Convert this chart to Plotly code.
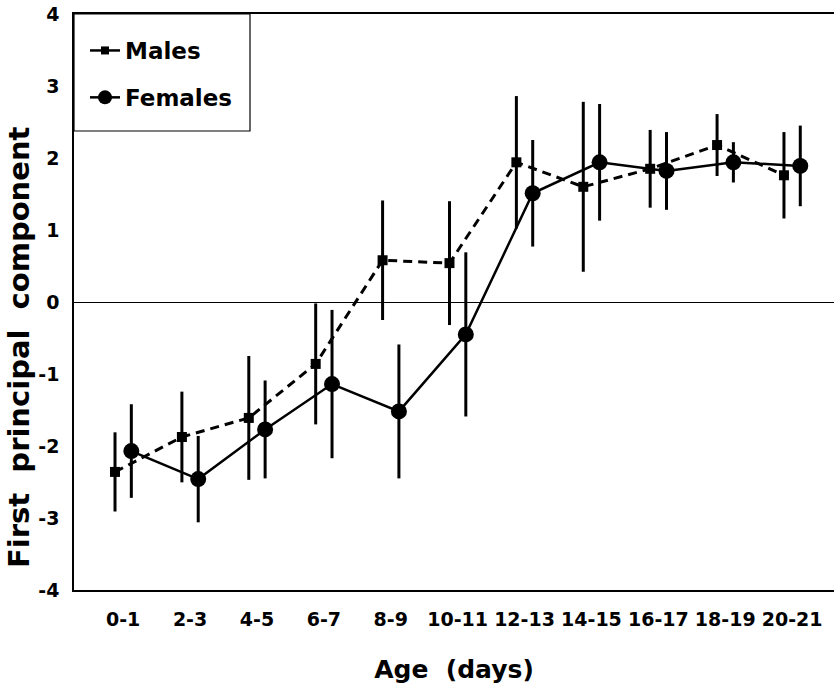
import plotly.graph_objects as go

ages = ["0-1", "2-3", "4-5", "6-7", "8-9", "10-11", "12-13", "14-15", "16-17", "18-19", "20-21"]
y_ticks = [4, 3, 2, 1, 0, -1, -2, -3, -4]

males_mean = [-2.36, -1.875, -1.61, -0.86, 0.58, 0.54, 1.94, 1.60, 1.85, 2.18, 1.76]
males_err = [0.55, 0.63, 0.86, 0.84, 0.83, 0.86, 0.92, 1.18, 0.54, 0.43, 0.60]

females_mean = [-2.07, -2.46, -1.77, -1.14, -1.52, -0.45, 1.51, 1.94, 1.82, 1.94, 1.89]
females_err = [0.65, 0.60, 0.68, 1.03, 0.93, 1.14, 0.74, 0.81, 0.54, 0.28, 0.56]

OFFSET = 0.122
idx = list(range(len(ages)))
x_m = [i - OFFSET for i in idx]
x_f = [i + OFFSET for i in idx]

FONT = "DejaVu Sans"

fig = go.Figure()

fig.add_trace(go.Scatter(
    x=x_m, y=males_mean, mode="lines+markers", showlegend=False, name="Males",
    line=dict(color="black", width=3, dash="9px,6px"),
    marker=dict(symbol="square", size=10, color="black"),
    error_y=dict(type="data", array=males_err, visible=True, color="black", thickness=3, width=0),
))
fig.add_trace(go.Scatter(
    x=x_f, y=females_mean, mode="lines+markers", showlegend=False, name="Females",
    line=dict(color="black", width=2.5),
    marker=dict(symbol="circle", size=16, color="black"),
    error_y=dict(type="data", array=females_err, visible=True, color="black", thickness=3, width=0),
))
# legend entries
fig.add_trace(go.Scatter(
    x=[None], y=[None], mode="lines+markers", name="Males", legendgroup="m",
    line=dict(color="black", width=2.5),
    marker=dict(symbol="square", size=8, color="black"),
))
fig.add_trace(go.Scatter(
    x=[None], y=[None], mode="lines+markers", name="Females", legendgroup="f",
    line=dict(color="black", width=2.5),
    marker=dict(symbol="circle", size=14, color="black"),
))

W, H = 834, 689
L, R, T, B = 74, 0, 14, 99
pw, ph = W - L - R, H - T - B

def px_x(p):
    return (p - L) / pw

def px_y(p):
    return (H - B - p) / ph

fig.add_shape(type="rect", xref="paper", yref="paper",
              x0=0, x1=px_x(250), y0=px_y(131), y1=1,
              line=dict(color="black", width=1.2), fillcolor="rgba(0,0,0,0)")

fig.add_annotation(text="First\u00a0\u00a0principal\u00a0\u00a0component", xref="paper", yref="paper",
                   x=px_x(19), y=px_y(347), textangle=-90, showarrow=False,
                   xanchor="center", yanchor="middle",
                   font=dict(family=FONT, size=29, color="black", weight="bold"))

fig.update_layout(
    width=W, height=H,
    margin=dict(l=L, r=R, t=T, b=B),
    paper_bgcolor="white", plot_bgcolor="white",
    showlegend=True,
    legend=dict(x=px_x(85), y=px_y(29), xanchor="left", yanchor="top",
                bgcolor="rgba(0,0,0,0)", borderwidth=0, tracegroupgap=14,
                font=dict(family=FONT, size=23, color="black", weight="bold")),
    xaxis=dict(
        range=[-0.735, 10.626], tickmode="array", tickvals=idx, ticktext=ages,
        showgrid=False, zeroline=False, showline=True, mirror=True,
        linecolor="black", linewidth=1.5, ticks="", ticklabelstandoff=11,
        tickfont=dict(family=FONT, size=19, color="black", weight="bold"),
        title=dict(text="Age\u00a0\u00a0(days)", standoff=32,
                   font=dict(family=FONT, size=25, color="black", weight="bold")),
    ),
    yaxis=dict(
        range=[-4, 4], tickmode="array", tickvals=y_ticks, ticktext=[str(v) for v in y_ticks],
        showgrid=False, zeroline=True, zerolinecolor="black", zerolinewidth=1.2,
        showline=True, linecolor="black", linewidth=1.5, ticks="", ticklabelstandoff=9,
        tickfont=dict(family=FONT, size=19, color="black", weight="bold"),
    ),
)

fig.write_html("out.html")
